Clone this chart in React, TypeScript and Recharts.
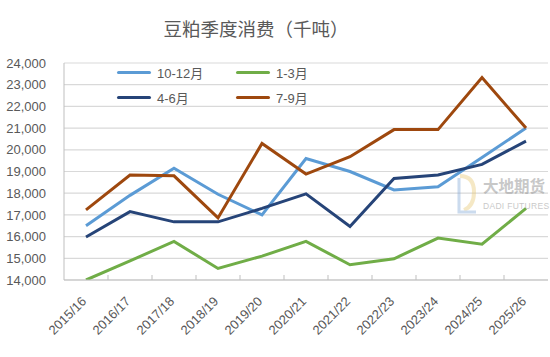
import React from 'react';
import { LineChart, Line, XAxis, YAxis, CartesianGrid, Legend } from 'recharts';

const categories = ['2015/16', '2016/17', '2017/18', '2018/19', '2019/20', '2020/21', '2021/22', '2022/23', '2023/24', '2024/25', '2025/26'];
const q1012 = [16500, 17900, 19150, 17950, 17000, 19600, 19000, 18150, 18300, 19650, 21000];
const q13 = [14000, 14880, 15780, 14530, 15100, 15780, 14700, 14980, 15930, 15650, 17300];
const q46 = [15980, 17150, 16680, 16680, 17300, 17970, 16470, 18680, 18840, 19330, 20400];
const q79 = [17230, 18840, 18800, 16860, 20290, 18880, 19680, 20930, 20930, 23330, 21000];
const yTicks = [14000, 15000, 16000, 17000, 18000, 19000, 20000, 21000, 22000, 23000, 24000];

const seriesNames = ['10-12月', '1-3月', '4-6月', '7-9月'];
const colors = ['#5B9BD5', '#70AD47', '#264478', '#9E480E'];

const data = categories.map((c, i) => ({
  cat: c,
  [seriesNames[0]]: q1012[i],
  [seriesNames[1]]: q13[i],
  [seriesNames[2]]: q46[i],
  [seriesNames[3]]: q79[i],
}));

const FONT = '"Liberation Sans", "Noto Sans CJK SC", sans-serif';
const TEXT = '#595959';

const XTick = (props: any) => {
  const { x, y, payload, index } = props;
  const tx = x - 2;
  const ty = y + 19;
  return (
    <g>
      {index < categories.length - 1 && (
        <line x1={x + 22} x2={x + 22} y1={y} y2={y - 5} stroke="#bfbfbf" strokeWidth={1} />
      )}
      <text
        x={tx}
        y={ty}
        transform={`rotate(-45 ${tx} ${ty})`}
        textAnchor="end"
        dominantBaseline="central"
        fill={TEXT}
        fontSize={13}
        fontFamily={FONT}
      >
        {payload.value}
      </text>
    </g>
  );
};

const LegendContent = (props: any) => {
  const payload: any[] = props.payload || [];
  const ordered = seriesNames
    .map((n) => payload.find((p: any) => p.value === n))
    .filter(Boolean);
  const pos = [
    { left: 0, top: 0 },
    { left: 119, top: 0 },
    { left: 0, top: 25 },
    { left: 119, top: 25 },
  ];
  return (
    <div style={{ position: 'relative', width: 240, height: 0, overflow: 'visible' }}>
      {ordered.map((p: any, i: number) => (
        <div
          key={p.value}
          style={{
            position: 'absolute',
            left: pos[i].left,
            top: pos[i].top,
            display: 'flex',
            alignItems: 'center',
            height: 16,
            whiteSpace: 'nowrap',
          }}
        >
          <div style={{ width: 34, height: 3, background: p.color, borderRadius: 1.5 }} />
          <span style={{ marginLeft: 6, fontSize: 13, color: TEXT, fontFamily: FONT }}>{p.value}</span>
        </div>
      ))}
    </div>
  );
};

export default function App() {
  return (
    <div style={{ position: 'absolute', left: 0, top: 0, width: 550, height: 357, background: '#fff', overflow: 'hidden' }}>
      <div
        style={{
          position: 'absolute',
          left: 0,
          width: 512,
          top: 16,
          textAlign: 'center',
          fontSize: 18.5,
          lineHeight: '24px',
          color: TEXT,
          fontFamily: '"Noto Sans CJK SC", sans-serif',
        }}
      >
        豆粕季度消费（千吨）
      </div>
      <LineChart
        width={550}
        height={357}
        data={data}
        margin={{ top: 63, right: 2, left: 0, bottom: 0 }}
      >
        <CartesianGrid vertical={false} stroke="#d9d9d9" strokeWidth={1.2} />
        <XAxis
          dataKey="cat"
          height={77}
          tick={<XTick />}
          tickLine={false}
          tickSize={0}
          tickMargin={0}
          axisLine={{ stroke: '#bfbfbf' }}
          interval={0}
          padding={{ left: 22, right: 22 }}
        />
        <YAxis
          width={64}
          domain={[14000, 24000]}
          ticks={yTicks}
          interval={0}
          tickFormatter={(v: number) => v.toLocaleString('en-US')}
          tickLine={false}
          tickSize={0}
          tickMargin={18}
          axisLine={{ stroke: '#bfbfbf' }}
          tick={{ fill: TEXT, fontSize: 13, fontFamily: FONT }}
          allowDataOverflow
        />
        <Legend
          content={<LegendContent />}
          wrapperStyle={{ position: 'absolute', left: 117, top: 64, width: 240, height: 0, overflow: 'visible' }}
        />
        {seriesNames.map((n, i) => (
          <Line
            key={n}
            type="linear"
            dataKey={n}
            stroke={colors[i]}
            strokeWidth={3}
            dot={false}
            activeDot={false}
            isAnimationActive={false}
          />
        ))}
      </LineChart>
      <div style={{ position: 'absolute', left: 456, top: 172, width: 94, height: 45, opacity: 0.4, pointerEvents: 'none' }}>
        <svg width={24} height={42} style={{ position: 'absolute', left: 0, top: 0 }}>
          <path d="M4 4 Q18 4 18 20 Q18 34 8 38" stroke="#e8c870" strokeWidth={4} fill="none" />
          <path d="M3 6 L3 40 L20 40" stroke="#7fa6d6" strokeWidth={3} fill="none" />
        </svg>
        <div style={{ position: 'absolute', left: 27, top: 3, fontSize: 15.5, fontWeight: 700, color: '#777', fontFamily: '"Noto Sans CJK SC", sans-serif', whiteSpace: 'nowrap', lineHeight: '20px' }}>
          大地期货
        </div>
        <div style={{ position: 'absolute', left: 27, top: 29, fontSize: 8.5, color: '#777', fontFamily: FONT, whiteSpace: 'nowrap', letterSpacing: 0.3, lineHeight: '10px' }}>
          DADI FUTURES
        </div>
      </div>
    </div>
  );
}
